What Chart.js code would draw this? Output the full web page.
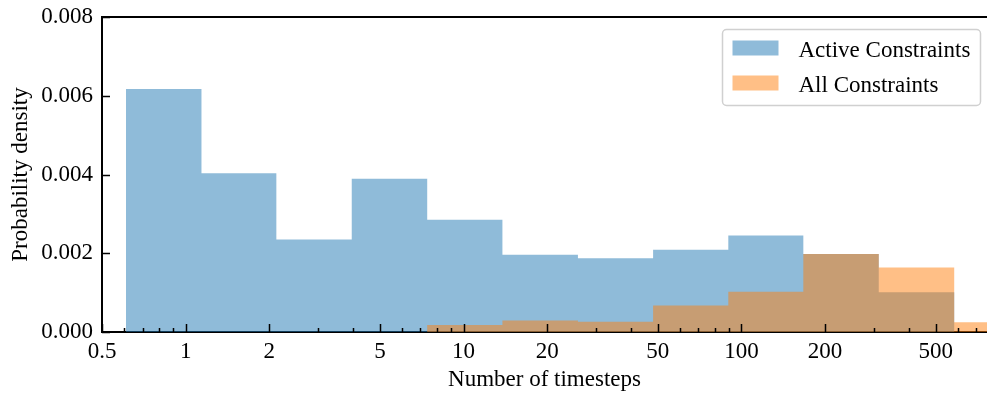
<!DOCTYPE html>
<html lang="en">
<head>
    <meta charset="UTF-8">
    <title>Number of timesteps histogram</title>
    <script src="https://cdn.jsdelivr.net/npm/chart.js"></script>
    <style>
        body {
            margin: 0;
            padding: 0;
            background-color: #fff;
        }
        .chart-container {
            width: 987px;
            height: 394px;
            position: relative;
        }
    </style>
</head>
<body>
    <div class="chart-container">
        <canvas id="histChart"></canvas>
    </div>

    <script>
        // log-spaced bin edges (number of timesteps)
        const binEdges = [0.61, 1.14, 2.12, 3.96, 7.40, 13.8, 25.8, 48.1, 89.7, 167, 312, 583, 1087];

        // probability density per bin
        const activeDensity = [0.00617, 0.00403, 0.00235, 0.00389, 0.00285, 0.00196, 0.00187, 0.00209, 0.00245, 0.00198, 0.00101, 0];
        const allDensity = [0, 0, 0, 0, 0.00018, 0.00029, 0.00026, 0.00067, 0.00102, 0.00198, 0.00164, 0.00025];

        // x axis ticks
        const xMajorTicks = [0.5, 1, 2, 5, 10, 20, 50, 100, 200, 500];
        const xMinorTicks = [0.6, 0.7, 0.8, 0.9, 3, 4, 6, 7, 8, 9, 30, 40, 60, 70, 80, 90, 300, 400, 600, 700];
        const yTicks = [0, 0.002, 0.004, 0.006, 0.008];

        const FONT = "'Liberation Serif', 'DejaVu Serif', serif";

        // step outline: each edge carries the height of the bin to its right
        function stepPoints(values) {
            const pts = values.map((v, i) => ({ x: binEdges[i], y: v }));
            pts.push({ x: binEdges[values.length], y: 0 });
            return pts;
        }

        // inward ticks and the top spine, matplotlib style
        const axesDecor = {
            id: 'axesDecor',
            afterDraw(chart) {
                const ctx = chart.ctx;
                const area = chart.chartArea;
                const xs = chart.scales.x;
                const ys = chart.scales.y;
                ctx.save();
                ctx.strokeStyle = '#000';
                ctx.lineWidth = 1.5;
                ctx.beginPath();
                xs.ticks.forEach(t => {
                    const px = Math.round(xs.getPixelForValue(t.value)) + 0.5;
                    const len = xMajorTicks.includes(t.value) ? 8 : 4;
                    ctx.moveTo(px, area.bottom);
                    ctx.lineTo(px, area.bottom - len);
                });
                yTicks.forEach(v => {
                    const py = Math.round(ys.getPixelForValue(v)) + 0.5;
                    ctx.moveTo(area.left, py);
                    ctx.lineTo(area.left + 8, py);
                });
                ctx.stroke();

                ctx.lineWidth = 2;
                ctx.beginPath();
                ctx.moveTo(area.left - 1, area.top);
                ctx.lineTo(area.right, area.top);
                ctx.stroke();
                ctx.restore();
            }
        };

        // framed legend in the upper right corner
        const boxLegend = {
            id: 'boxLegend',
            afterDraw(chart) {
                const ctx = chart.ctx;
                const area = chart.chartArea;
                const x0 = area.right - 264.5;
                const y0 = area.top + 12.5;
                const w = 258, h = 76;
                ctx.save();
                ctx.fillStyle = '#fff';
                ctx.strokeStyle = '#d0d0d0';
                ctx.lineWidth = 1.5;
                ctx.beginPath();
                ctx.roundRect(x0, y0, w, h, 4);
                ctx.fill();
                ctx.stroke();

                ctx.font = '23px ' + FONT;
                ctx.textBaseline = 'alphabetic';
                ctx.textAlign = 'left';
                chart.data.datasets.forEach((ds, i) => {
                    const rowY = y0 + 11 + i * 35;
                    ctx.fillStyle = ds.backgroundColor;
                    ctx.fillRect(x0 + 10, rowY, 46, 15);
                    ctx.fillStyle = '#000';
                    ctx.fillText(ds.label, x0 + 76, rowY + 16);
                });
                ctx.restore();
            }
        };

        const ctx = document.getElementById('histChart').getContext('2d');
        const histChart = new Chart(ctx, {
            type: 'line',
            data: {
                datasets: [{
                    label: 'Active Constraints',
                    data: stepPoints(activeDensity),
                    backgroundColor: 'rgba(31, 119, 180, 0.5)',
                    borderColor: 'rgba(0, 0, 0, 0)',
                    borderWidth: 0,
                    pointRadius: 0,
                    stepped: true,
                    fill: 'origin',
                    order: 1
                }, {
                    label: 'All Constraints',
                    data: stepPoints(allDensity),
                    backgroundColor: 'rgba(255, 127, 14, 0.5)',
                    borderColor: 'rgba(0, 0, 0, 0)',
                    borderWidth: 0,
                    pointRadius: 0,
                    stepped: true,
                    fill: 'origin',
                    order: 0
                }]
            },
            options: {
                responsive: true,
                maintainAspectRatio: false,
                animation: false,
                layout: {
                    padding: { top: 17, right: 0, bottom: 0, left: 0 }
                },
                plugins: {
                    legend: { display: false },
                    tooltip: { enabled: false }
                },
                scales: {
                    x: {
                        type: 'logarithmic',
                        min: 0.5,
                        max: 765,
                        afterBuildTicks: scale => {
                            scale.ticks = xMajorTicks.concat(xMinorTicks)
                                .sort((a, b) => a - b)
                                .map(v => ({ value: v }));
                        },
                        afterFit: scale => {
                            scale.height = 62;
                            scale.paddingLeft = 0;
                            scale.paddingRight = 0;
                        },
                        grid: { display: false, drawTicks: false },
                        border: { display: true, color: '#000', width: 2 },
                        ticks: {
                            autoSkip: false,
                            maxRotation: 0,
                            padding: 6,
                            color: '#000',
                            font: { family: FONT, size: 23 },
                            callback: v => xMajorTicks.includes(v) ? String(v) : ''
                        },
                        title: {
                            display: true,
                            text: 'Number of timesteps',
                            color: '#000',
                            font: { family: FONT, size: 23 },
                            padding: { top: 0, bottom: 0 }
                        }
                    },
                    y: {
                        min: 0,
                        max: 0.008,
                        afterBuildTicks: scale => {
                            scale.ticks = yTicks.map(v => ({ value: v }));
                        },
                        afterFit: scale => {
                            scale.width = 102;
                            scale.paddingTop = 0;
                            scale.paddingBottom = 0;
                        },
                        grid: { display: false, drawTicks: false },
                        border: { display: true, color: '#000', width: 2 },
                        ticks: {
                            padding: 9,
                            color: '#000',
                            font: { family: FONT, size: 23 },
                            callback: v => v.toFixed(3)
                        },
                        title: {
                            display: true,
                            text: 'Probability density',
                            color: '#000',
                            font: { family: FONT, size: 23 },
                            padding: { top: 7, bottom: 0 }
                        }
                    }
                }
            },
            plugins: [axesDecor, boxLegend]
        });
    </script>
</body>
</html>
